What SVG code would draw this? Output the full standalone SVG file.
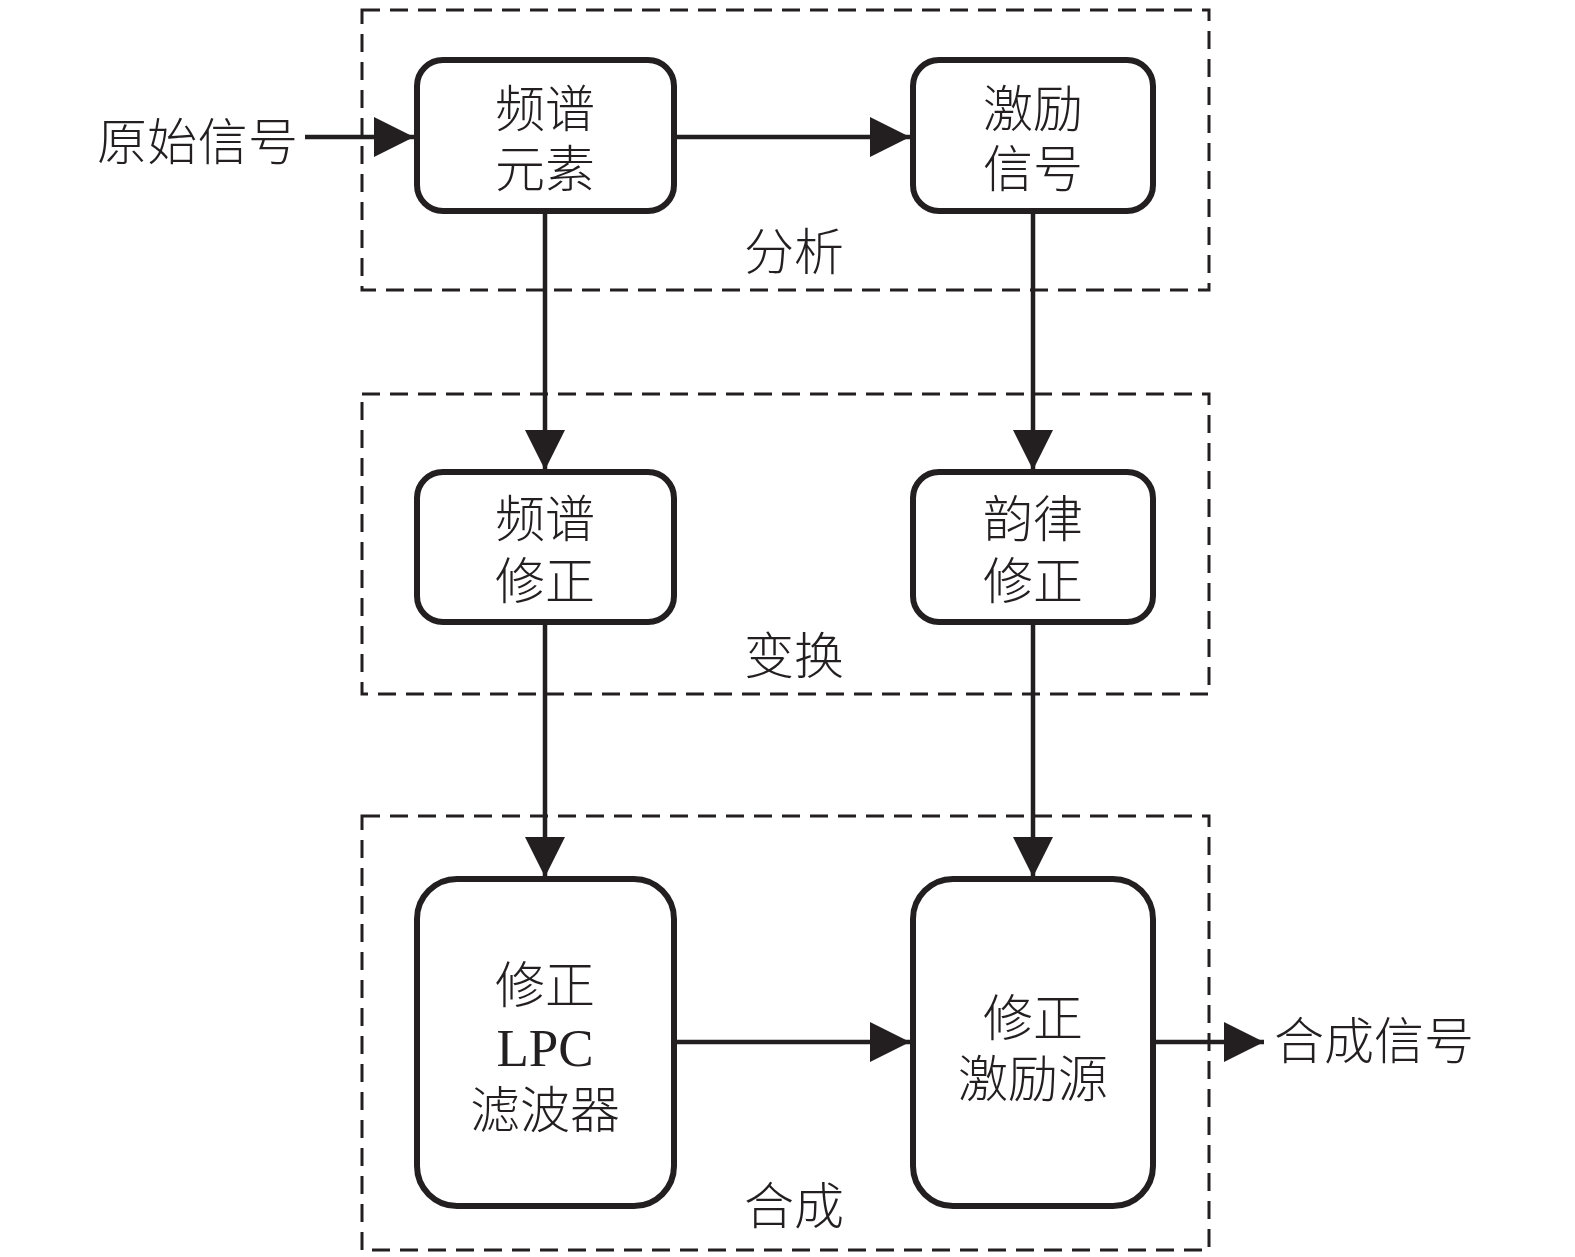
<svg xmlns="http://www.w3.org/2000/svg" width="1575" height="1257" viewBox="0 0 1575 1257">
<style>
.grp{fill:none;stroke:#231f20;stroke-width:3;stroke-dasharray:18 10}
.node{fill:#fff;stroke:#231f20;stroke-width:6}
.t{font-family:"Noto Sans CJK SC","Noto Sans CJK JP",sans-serif;font-size:50px;fill:#231f20;font-weight:300}
.c{text-anchor:middle}
.lpc{font-family:"Liberation Serif",serif;font-size:53px;fill:#231f20;text-anchor:middle}
.con{fill:none;stroke:#231f20;stroke-width:4.5}
</style>
<defs>
<marker id="ah" viewBox="0 0 10 10" refX="10" refY="5" markerUnits="userSpaceOnUse" markerWidth="40" markerHeight="40" orient="auto">
<path d="M0,0 L10,5 L0,10 Z" fill="#231f20"/>
</marker>
</defs>
<rect width="1575" height="1257" fill="#fff"/>
<g id="groups">
<rect class="grp" x="362" y="10" width="847" height="280"/>
<rect class="grp" x="362" y="394" width="847" height="300"/>
<rect class="grp" x="362" y="816" width="847" height="434"/>
<text class="t c" x="794" y="270">分析</text>
<text class="t c" x="794" y="674">变换</text>
<text class="t c" x="794" y="1224">合成</text>
</g>
<g id="connectors">
<path class="con" d="M305,137 H414" marker-end="url(#ah)"/>
<path class="con" d="M674,137 H910" marker-end="url(#ah)"/>
<path class="con" d="M545,211 V470" marker-end="url(#ah)"/>
<path class="con" d="M1033,211 V470" marker-end="url(#ah)"/>
<path class="con" d="M545,622 V877" marker-end="url(#ah)"/>
<path class="con" d="M1033,622 V877" marker-end="url(#ah)"/>
<path class="con" d="M674,1042 H910" marker-end="url(#ah)"/>
<path class="con" d="M1153,1042 H1264" marker-end="url(#ah)"/>
</g>
<g id="in"><text class="t" x="97" y="160" textLength="201">原始信号</text></g>
<g id="out"><text class="t" x="1274" y="1059" textLength="200">合成信号</text></g>
<g id="n1"><rect class="node" x="417" y="60" width="257" height="151" rx="26"/>
<text class="t c" x="545" y="127">频谱</text><text class="t c" x="545" y="187">元素</text></g>
<g id="n2"><rect class="node" x="913" y="60" width="240" height="151" rx="26"/>
<text class="t c" x="1033" y="127">激励</text><text class="t c" x="1033" y="187">信号</text></g>
<g id="n3"><rect class="node" x="417" y="472" width="257" height="150" rx="26"/>
<text class="t c" x="545" y="537">频谱</text><text class="t c" x="545" y="599">修正</text></g>
<g id="n4"><rect class="node" x="913" y="472" width="240" height="150" rx="26"/>
<text class="t c" x="1033" y="537">韵律</text><text class="t c" x="1033" y="599">修正</text></g>
<g id="n5"><rect class="node" x="417" y="879" width="257" height="327" rx="40"/>
<text class="t c" x="545" y="1003">修正</text><text class="lpc" x="545" y="1066">LPC</text><text class="t c" x="545" y="1128">滤波器</text></g>
<g id="n6"><rect class="node" x="913" y="879" width="240" height="327" rx="40"/>
<text class="t c" x="1033" y="1036">修正</text><text class="t c" x="1033" y="1097">激励源</text></g>
</svg>
